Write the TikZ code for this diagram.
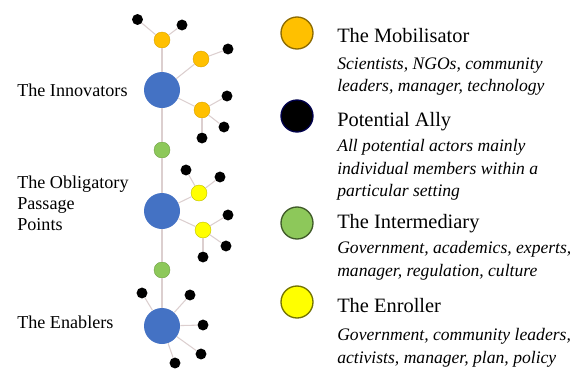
\documentclass[tikz,border=0pt]{standalone}
\usepackage{fontspec}
\setmainfont{Liberation Serif}
\usepackage{tikz}
\definecolor{hubblue}{HTML}{4472C4}
\definecolor{mobor}{HTML}{FFC000}
\definecolor{interg}{HTML}{8DC85A}
\definecolor{enry}{HTML}{FFFF00}
\definecolor{linkc}{HTML}{DCCFCF}
\tikzset{
  hub/.style={circle, fill=hubblue, inner sep=0pt, minimum size=27pt},
  mobil/.style={circle, fill=mobor, draw=mobor!85!black, line width=0.3pt, inner sep=0pt, minimum size=12pt},
  ally/.style={circle, fill=black, inner sep=0pt, minimum size=8.2pt},
  interm/.style={circle, fill=interg, draw=interg!80!black, line width=0.3pt, inner sep=0pt, minimum size=12pt},
  enrol/.style={circle, fill=enry, draw=enry!75!black, line width=0.3pt, inner sep=0pt, minimum size=12pt},
  link/.style={draw=linkc, line width=0.8pt},
  keydot/.style={circle, line width=1pt, inner sep=0pt, minimum size=24pt},
  keytitle/.style={anchor=west, inner sep=0pt, font=\fontsize{15.3}{17}\selectfont},
  keytext/.style={anchor=west, inner sep=0pt, align=left, font=\fontsize{13.2}{17}\selectfont\itshape},
  sidelabel/.style={anchor=west, inner sep=0pt, align=left, font=\fontsize{13.6}{15.75}\selectfont}
}
\begin{document}
\begin{tikzpicture}[x=0.75pt, y=-0.75pt]
  %%%%% START %%%%%
  \useasboundingbox (0,0) rectangle (574,368);

  % hubs and intermediaries on the spine
  \node[mobil] (m1) at (162,40) {};
  \node[hub] (h1) at (162,90) {};
  \node[interm] (i1) at (162,150) {};
  \node[hub] (h2) at (162,211) {};
  \node[interm] (i2) at (162,270) {};
  \node[hub] (h3) at (162,326) {};

  % innovators
  \node[ally] (a1) at (137.5,19.5) {};
  \node[ally] (a2) at (182,25) {};
  \node[mobil] (m2) at (201,59) {};
  \node[ally] (a3) at (228,49) {};
  \node[mobil] (m3) at (202,110) {};
  \node[ally] (a4) at (227,96) {};
  \node[ally] (a5) at (224,127) {};
  \node[ally] (a6) at (202,138) {};

  % obligatory passage points
  \node[enrol] (e1) at (199,193) {};
  \node[ally] (a7) at (186,170) {};
  \node[ally] (a8) at (220,177) {};
  \node[enrol] (e2) at (203,230) {};
  \node[ally] (a9) at (228,215) {};
  \node[ally] (a10) at (226,246) {};
  \node[ally] (a11) at (203,257) {};

  % enablers
  \node[ally] (a12) at (142,293) {};
  \node[ally] (a13) at (190,295) {};
  \node[ally] (a14) at (203,325) {};
  \node[ally] (a15) at (201,354) {};
  \node[ally] (a16) at (175,363) {};

  \draw[link] (m1) -- (h1) -- (i1) -- (h2) -- (i2) -- (h3);
  \draw[link] (m1) -- (a1);
  \draw[link] (m1) -- (a2);
  \draw[link] (h1) -- (m2) -- (a3);
  \draw[link] (h1) -- (m3);
  \foreach \a in {a4,a5,a6} \draw[link] (m3) -- (\a);
  \draw[link] (h2) -- (e1);
  \foreach \a in {a7,a8} \draw[link] (e1) -- (\a);
  \draw[link] (h2) -- (e2);
  \foreach \a in {a9,a10,a11} \draw[link] (e2) -- (\a);
  \foreach \a in {a12,a13,a14,a15,a16} \draw[link] (h3) -- (\a);

  \node[sidelabel] (innov) at (17,90) {The Innovators};
  \node[sidelabel] (opp) at (17,203) {The Obligatory\\Passage\\Points};
  \node[sidelabel] (enab) at (17,322) {The Enablers};

  % legend
  \node[keydot, fill=mobor, draw=mobor!55!black] (kmob) at (297,33) {};
  \node[keytitle] (tmob) at (337,36) {The Mobilisator};
  \node[keytext] (dmob) at (337,76.5) {Scientists, NGOs, community\\leaders, manager, technology};

  \node[keydot, fill=black, draw=black!70!blue] (kally) at (297,116) {};
  \node[keytitle] (tally) at (337,122) {Potential Ally};
  \node[keytext] (dally) at (337,170) {All potential actors mainly\\individual members within a\\particular setting};

  \node[keydot, fill=interg, draw=interg!45!black] (kint) at (297,223) {};
  \node[keytitle] (tint) at (337,224) {The Intermediary};
  \node[keytext] (dint) at (337,261) {Government, academics, experts,\\manager, regulation, culture};

  \node[keydot, fill=enry, draw=enry!45!black] (kenr) at (297,302) {};
  \node[keytitle] (tenr) at (337,306) {The Enroller};
  \node[keytext] (denr) at (337,348) {Government, community leaders,\\activists, manager, plan, policy};
  %%%%% END %%%%%
\end{tikzpicture}
\end{document}
